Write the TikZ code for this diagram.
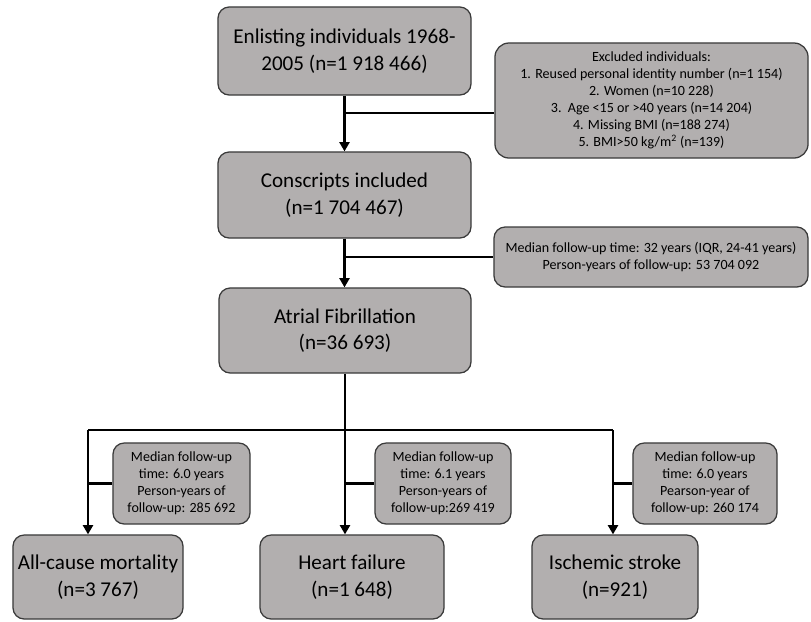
\documentclass[tikz,border=0pt]{standalone}
\usepackage{fontspec}
\setmainfont{Carlito}
\usetikzlibrary{arrows.meta}
\definecolor{boxgray}{RGB}{178,175,175}
\definecolor{boxedge}{RGB}{58,58,58}

\begin{document}
\begin{tikzpicture}[x=0.025cm, y=-0.025cm,
	mainbox/.style={draw=boxedge, line width=0.9pt, fill=boxgray, rounded corners=8pt,
		align=center, inner sep=0pt, font=\fontsize{15}{19}\selectfont},
	notebox/.style={draw=boxedge, line width=0.9pt, fill=boxgray, rounded corners=8pt,
		align=center, inner sep=0pt, font=\fontsize{10}{12}\selectfont},
	flow/.style={line width=2pt, color=black},
	flowarrow/.style={flow, -{Triangle[width=7pt, length=6.5pt]}}]
			%%%%% START %%%%%
			
			\useasboundingbox (0, 0) rectangle (811, 621);
			
			% main column
			\node[mainbox, minimum width=6.325cm, minimum height=2.2cm] (enlist) at (344.5, 51) {Enlisting individuals 1968-\\2005 (n=1 918 466)};
			\node[mainbox, minimum width=6.325cm, minimum height=2.15cm] (conscripts) at (344.5, 195) {Conscripts included\\(n=1 704 467)};
			\node[mainbox, minimum width=6.3cm, minimum height=2.125cm] (af) at (345, 330.5) {Atrial Fibrillation\\(n=36 693)};
			
			% boxes on the right
			\node[notebox, minimum width=7.825cm, minimum height=2.875cm, rounded corners=10pt] (excluded) at (651.5, 100.5) {Excluded individuals:\\1. Reused personal identity number (n=1 154)\\2. Women (n=10 228)\\3.\ \ Age <15 or >40 years (n=14 204)\\4. Missing BMI (n=188 274)\\5. BMI>50 kg/m\textsuperscript{2} (n=139)};
			\node[notebox, minimum width=7.85cm, minimum height=1.5cm] (followup) at (651, 257) {Median follow-up time: 32 years (IQR, 24-41 years)\\Person-years of follow-up: 53 704 092};
			
			% outcomes
			\node[mainbox, minimum width=4.25cm, minimum height=2.1cm] (mort) at (98, 577) {All-cause mortality\\(n=3 767)};
			\node[mainbox, minimum width=4.6cm, minimum height=2.1cm] (hf) at (352, 577) {Heart failure\\(n=1 648)};
			\node[mainbox, minimum width=4.15cm, minimum height=2.1cm] (stroke) at (615, 577) {Ischemic stroke\\(n=921)};
			
			\node[notebox, minimum width=3.425cm, minimum height=2.025cm] (fuMort) at (181.5, 483.5) {Median follow-up\\time: 6.0 years\\Person-years of\\follow-up: 285 692};
			\node[notebox, minimum width=3.4cm, minimum height=2.025cm] (fuHF) at (443, 483.5) {Median follow-up\\time: 6.1 years\\Person-years of\\follow-up:269 419};
			\node[notebox, minimum width=3.6cm, minimum height=2.025cm] (fuStroke) at (705, 483.5) {Median follow-up\\time: 6.0 years\\Pearson-year of\\follow-up: 260 174};
			
			% connectors
			\coordinate (exclTap) at (345, 113);
			\coordinate (busMid) at (345, 430);
			\coordinate (busL) at (88, 430);
			\coordinate (busR) at (613, 430);
			
			\draw[flowarrow] (enlist.south) -- (enlist.south |- conscripts.north);
			\draw[flow] (exclTap) -- (exclTap -| excluded.west);
			\draw[flowarrow] (conscripts.south) -- (conscripts.south |- af.north);
			\draw[flow] (conscripts.south |- followup.west) -- (followup.west);
			
			\draw[flow] (af.south) -- (busMid);
			\draw[flow] (busL) -- (busR);
			\draw[flowarrow] (busL) -- (busL |- mort.north);
			\draw[flowarrow] (busMid) -- (busMid |- hf.north);
			\draw[flowarrow] (busR) -- (busR |- stroke.north);
			\draw[flow] (busL |- fuMort.west) -- (fuMort.west);
			\draw[flow] (busMid |- fuHF.west) -- (fuHF.west);
			\draw[flow] (busR |- fuStroke.west) -- (fuStroke.west);
			
			%%%%% END %%%%%
\end{tikzpicture}
\end{document}
